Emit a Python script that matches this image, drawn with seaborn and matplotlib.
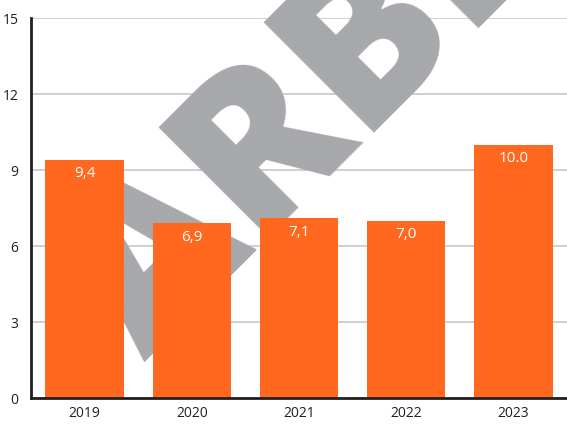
import matplotlib.pyplot as plt
import seaborn as sns
import pandas as pd

# datos
anios = ["2019", "2020", "2021", "2022", "2023"]
valores = [9.4, 6.9, 7.1, 7.0, 10.0]
etiquetas = ["9,4", "6,9", "7,1", "7,0", "10.0"]
ticks_y = [0, 3, 6, 9, 12, 15]

naranja = "#FF681E"
gris_marca = "#A7A8AB"

sns.set_style("white")
plt.rcParams["font.family"] = ["Open Sans", "DejaVu Sans"]

df = pd.DataFrame({"anio": anios, "valor": valores})

fig = plt.figure(figsize=(5.67, 4.26), dpi=100)
ax = fig.add_axes([0.0547, 0.0657, 0.9453, 0.892])

sns.barplot(data=df, x="anio", y="valor", color=naranja, width=0.73,
            saturation=1, linewidth=0, ax=ax, zorder=3)

# marca de agua detras de las barras
ax.text(0.255, 0.15, "ARBEIT", transform=fig.transFigure, rotation=45,
        rotation_mode="anchor", ha="left", va="baseline", fontsize=158,
        fontweight=800, color=gris_marca, zorder=2, clip_on=False)

ax.bar_label(ax.containers[0], labels=etiquetas, padding=-15.5,
             color="white", fontsize=11)

ax.set_ylim(0, 15)
ax.set_xlim(-0.5, 4.5)
ax.set_yticks(ticks_y)
ax.yaxis.grid(True, color="#CCCCCC", linewidth=1.3, zorder=0)
ax.set_axisbelow(True)

ax.set_xticks([0.5, 1.5, 2.5, 3.5], minor=True)
ax.tick_params(axis="x", which="minor", direction="in", length=6, width=2,
               color="#231F20")
ax.tick_params(axis="x", which="major", length=0, labelsize=10,
               labelcolor="#231F20", pad=6)
ax.tick_params(axis="y", length=0, labelsize=10, labelcolor="#231F20", pad=9)

for lado in ["top", "right"]:
    ax.spines[lado].set_visible(False)
for lado in ["left", "bottom"]:
    ax.spines[lado].set_color("#231F20")
    ax.spines[lado].set_linewidth(2)
    ax.spines[lado].set_zorder(5)

ax.set_xlabel("")
ax.set_ylabel("")

fig.savefig("out.png", dpi=100)
